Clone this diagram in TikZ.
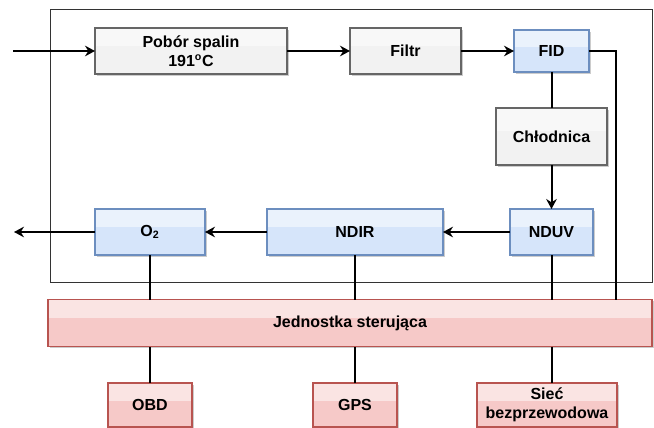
\documentclass[tikz,border=0pt]{standalone}
\usepackage{fontspec}
\setmainfont{Liberation Sans}
\usetikzlibrary{positioning,arrows.meta,shadows,calc}
\definecolor{grayfill}{HTML}{F2F2F2}
\definecolor{graydraw}{HTML}{666666}
\definecolor{bluefill}{HTML}{D6E5FA}
\definecolor{bluedraw}{HTML}{6C8EBF}
\definecolor{redfill}{HTML}{F6C9C8}
\definecolor{reddraw}{HTML}{B85450}
\tikzset{
	every node/.style={font=\fontsize{12}{14}\selectfont\bfseries},
	box/.style={rectangle, draw, line width=1pt, align=center, inner sep=0pt, outer sep=0pt,
		drop shadow={shadow xshift=1.2pt, shadow yshift=-1.2pt, opacity=.4},
		path picture={\fill[white,opacity=.5] (path picture bounding box.north west) rectangle ($(path picture bounding box.north east)!.4!(path picture bounding box.south east)$);}},
	graybox/.style={box, fill=grayfill, draw=graydraw},
	bluebox/.style={box, fill=bluefill, draw=bluedraw},
	redbox/.style={box, fill=redfill, draw=reddraw},
	flow/.style={line width=1.5pt, -{Stealth[length=7.5pt,width=8pt,inset=2.5pt]}},
	wire/.style={line width=1.5pt},
}

\begin{document}
\begin{tikzpicture}[x=0.75pt, y=-0.75pt]
	\useasboundingbox (0,0) rectangle (654,428);
	\draw[line width=0.75pt, black!80] (50,10) rectangle (652,282);

	\node[graybox, minimum width=144pt, minimum height=34.5pt] (pobor) at (191,51) {Pobór spalin\\191\textsuperscript{o}C};
	\node[graybox, minimum width=83.25pt, minimum height=34.5pt, right=47.25pt of pobor] (filtr) {Filtr};
	\node[bluebox, minimum width=56.25pt, minimum height=31.5pt, right=39.75pt of filtr] (fid) {FID};
	\node[graybox, minimum width=83.25pt, minimum height=42.75pt, below=27pt of fid] (chlodnica) {Chłodnica};
	\node[bluebox, minimum width=62.25pt, minimum height=34.5pt, below=33pt of chlodnica] (nduv) {NDUV};
	\node[bluebox, minimum width=132pt, minimum height=34.5pt, left=50.25pt of nduv] (ndir) {NDIR};
	\node[bluebox, minimum width=82.5pt, minimum height=34.5pt, left=46.5pt of ndir] (otwo) {O\textsubscript{2}};
	\node[redbox, minimum width=453pt, minimum height=35.25pt] (jednostka) at (350,323) {Jednostka sterująca};
	\node[redbox, minimum width=63pt, minimum height=33pt] (obd) at (150,405) {OBD};
	\node[redbox, minimum width=63pt, minimum height=33pt] (gps) at (355,405) {GPS};
	\node[redbox, minimum width=105pt, minimum height=33pt] (siec) at (547,405) {Sieć\\bezprzewodowa};

	\coordinate (wlot) at (13,51);
	\coordinate (wylot) at (14,232);
	\coordinate (fidbend) at (616,51);

	\draw[flow] (wlot) -- (pobor);
	\draw[flow] (pobor) -- (filtr);
	\draw[flow] (filtr) -- (fid);
	\draw[wire] (fid) -- (chlodnica);
	\draw[flow] (chlodnica) -- (nduv);
	\draw[flow] (nduv) -- (ndir);
	\draw[flow] (ndir) -- (otwo);
	\draw[flow] (otwo) -- (wylot);
	\draw[wire] (fid) -- (fidbend) -- (fidbend |- jednostka.north);
	\draw[wire] (otwo) -- (otwo |- jednostka.north);
	\draw[wire] (ndir) -- (ndir |- jednostka.north);
	\draw[wire] (nduv) -- (nduv |- jednostka.north);
	\draw[wire] (obd) -- (obd |- jednostka.south);
	\draw[wire] (gps) -- (gps |- jednostka.south);
	\draw[wire] (nduv.south |- jednostka.south) -- (nduv.south |- siec.north);
\end{tikzpicture}
\end{document}
